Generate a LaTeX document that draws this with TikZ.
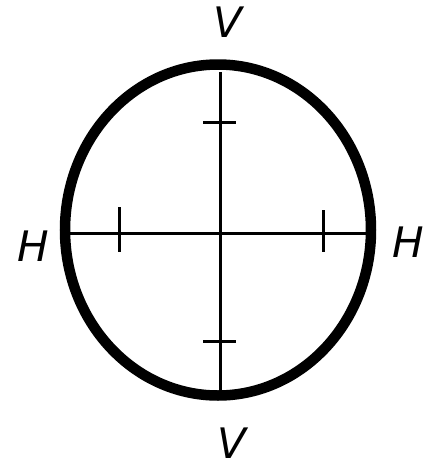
\documentclass[tikz,border=0pt]{standalone}
\usepackage{fontspec}
\setmainfont{DejaVu Sans}
\begin{document}
\begin{tikzpicture}[x=1pt,y=-1pt,
  rim/.style={line width=10.5pt},
  axis/.style={line width=3pt},
  tick/.style={line width=3pt},
  lab/.style={inner sep=0pt,font=\fontsize{42}{42}\selectfont\itshape}]
\useasboundingbox (0,0) rectangle (428,467);
\draw[rim] (218,230) ellipse [x radius=153, y radius=165.5];
\coordinate (vt) at (220,72);
\coordinate (vb) at (220,390);
\coordinate (hl) at (70,233);
\coordinate (hr) at (366,233);
\draw[axis] (vt) -- (vb);
\draw[axis] (hl) -- (hr);
\coordinate (t1a) at (203,122); \coordinate (t1b) at (236,122);
\coordinate (t2a) at (203,341); \coordinate (t2b) at (236,341);
\coordinate (t3a) at (119,207); \coordinate (t3b) at (119,252);
\coordinate (t4a) at (323,210); \coordinate (t4b) at (323,252);
\draw[tick] (t1a) -- (t1b);
\draw[tick] (t2a) -- (t2b);
\draw[tick] (t3a) -- (t3b);
\draw[tick] (t4a) -- (t4b);
\node[lab] (vtop) at (228,22) {V};
\node[lab] (vbot) at (232,443) {V};
\node[lab] (hleft) at (33,246) {H};
\node[lab] (hright) at (408,242) {H};
\end{tikzpicture}
\end{document}
